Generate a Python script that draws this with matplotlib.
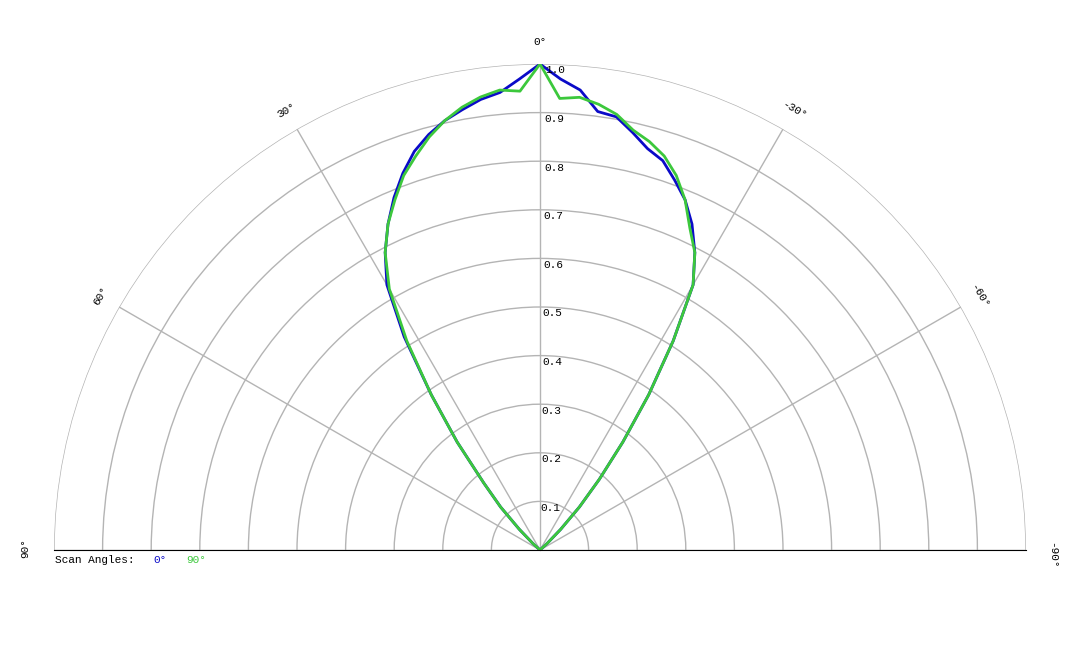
import numpy as np
import matplotlib
matplotlib.use("Agg")
import matplotlib.pyplot as plt

# angles in degrees (positive = left side), intensity normalized
angles = [-50, -47.5, -45, -42.5, -40, -37.5, -35, -32.5, -30, -27.5, -25, -22.5, -20, -17.5, -15, -12.5, -10, -7.5, -5, -2.5,
          0, 2.5, 5, 7.5, 10, 12.5, 15, 17.5, 20, 22.5, 25, 27.5, 30, 32.5, 35, 37.5, 40, 42.5, 45, 47.5, 50]
scan0 = [0.0, 0.02, 0.06, 0.12, 0.19, 0.28, 0.39, 0.51, 0.63, 0.69, 0.74, 0.78, 0.81, 0.84, 0.855, 0.88, 0.905, 0.91, 0.95, 0.97,
         1.0, 0.97, 0.945, 0.935, 0.92, 0.905, 0.885, 0.86, 0.825, 0.785, 0.74, 0.69, 0.63, 0.52, 0.39, 0.28, 0.18, 0.12, 0.06, 0.02, 0.0]
scan90 = [0.0, 0.02, 0.06, 0.12, 0.19, 0.28, 0.39, 0.51, 0.63, 0.69, 0.73, 0.78, 0.82, 0.85, 0.87, 0.885, 0.91, 0.925, 0.935, 0.93,
          1.0, 0.945, 0.95, 0.94, 0.925, 0.905, 0.88, 0.85, 0.82, 0.78, 0.74, 0.69, 0.62, 0.51, 0.39, 0.28, 0.18, 0.12, 0.06, 0.02, 0.0]
r_labels = ["0.1", "0.2", "0.3", "0.4", "0.5", "0.6", "0.7", "0.8", "0.9", "1.0"]
theta_labels = {0: "0°", 30: "30°", -30: "-30°", 60: "60°", -60: "-60°"}

mono = "Liberation Mono"
blue = "#0a0ac8"
green = "#3cc83c"

fig = plt.figure(figsize=(10.8, 6.48), dpi=100)
ax = fig.add_axes([54/1080, -145/648, 972/1080, 972/648], projection="polar")
ax.set_theta_zero_location("N")
ax.set_theta_direction(1)
ax.set_thetamin(-90)
ax.set_thetamax(90)
ax.set_ylim(0, 1.0)
ax.set_yticks(np.arange(0.1, 1.01, 0.1))
ax.set_yticklabels([])
ax.set_xticks(np.radians([-90, -60, -30, 0, 30, 60, 90]))
ax.set_xticklabels([])
ax.grid(True, color="#b4b4b4", lw=1)
for sp in ax.spines.values():
    sp.set_visible(False)

th = np.radians(angles)
ax.plot(th, scan0, color=blue, lw=2)
ax.plot(th, scan90, color=green, lw=2)

for i, lab in enumerate(r_labels):
    r = (i + 1) * 0.1
    ax.text(np.radians(-0.6), r - 0.013, lab, fontsize=8, family=mono, ha="left", va="center")

for deg, lab in theta_labels.items():
    ax.text(np.radians(deg), 1.045, lab, fontsize=8, family=mono, ha="center", va="center",
            rotation=deg)

fig.text(25/1080, 1 - 548/648, "90°", fontsize=8, family=mono, ha="center", va="center", rotation=90)
fig.text(1052/1080, 1 - 555/648, "-90°", fontsize=8, family=mono, ha="center", va="center", rotation=-90)

fig.text(55/1080, 1 - 560/648, "Scan Angles:", fontsize=8, family=mono, va="center")
fig.text(153/1080, 1 - 560/648, "0°", fontsize=8, family=mono, va="center", color=blue)
fig.text(186/1080, 1 - 560/648, "90°", fontsize=8, family=mono, va="center", color=green)

fig.savefig("out.png", dpi=100)
